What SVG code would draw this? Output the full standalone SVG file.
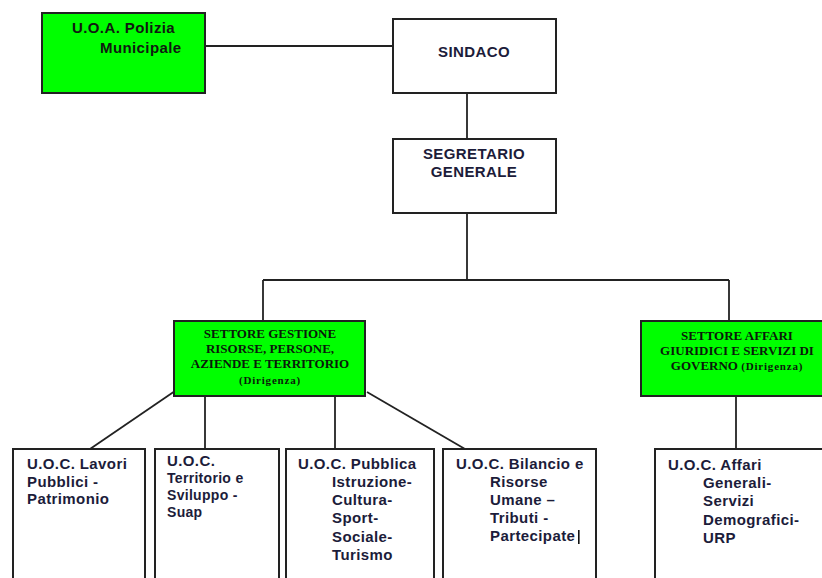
<svg xmlns="http://www.w3.org/2000/svg" width="822" height="578" viewBox="0 0 822 578">
<style>
.box{fill:#fff;stroke:#222;stroke-width:2}
.green{fill:#00ff00;stroke:#222;stroke-width:2}
.conn{stroke:#222;stroke-width:1.8;fill:none}
.s{font-family:"Liberation Sans",Arial,sans-serif;font-weight:bold;font-size:15px;letter-spacing:0.4px;fill:#1c1c3a}
.s13{font-size:14px;letter-spacing:0.3px}
.r{font-family:"Liberation Serif","Times New Roman",serif;font-weight:bold;font-size:13px;fill:#0a1a0a}
.rs{font-size:11px;letter-spacing:0.8px}
.m{text-anchor:middle}
</style>
<g id="connectors">
<line class="conn" x1="205" y1="46" x2="393" y2="46"/>
<line class="conn" x1="467" y1="93" x2="467" y2="139"/>
<line class="conn" x1="467" y1="209" x2="467" y2="280"/>
<line class="conn" x1="263" y1="280" x2="729" y2="280"/>
<line class="conn" x1="263" y1="280" x2="263" y2="321"/>
<line class="conn" x1="729" y1="280" x2="729" y2="321"/>
<line class="conn" x1="175" y1="391" x2="90" y2="449"/>
<line class="conn" x1="205" y1="391" x2="205" y2="449"/>
<line class="conn" x1="335" y1="391" x2="335" y2="449"/>
<line class="conn" x1="367" y1="392" x2="465" y2="449"/>
<line class="conn" x1="736" y1="389" x2="736" y2="449"/>
</g>
<g id="polizia">
<rect class="green" x="42" y="13" width="163" height="80"/>
<text class="s" x="72" y="33" style="fill:#101a10">U.O.A. Polizia</text>
<text class="s" x="100" y="53" style="fill:#101a10">Municipale</text>
</g>
<g id="sindaco">
<rect class="box" x="393" y="19" width="163" height="74"/>
<text class="s m" x="474" y="57">SINDACO</text>
</g>
<g id="segretario">
<rect class="box" x="393" y="139" width="163" height="74"/>
<text class="s m" x="474" y="159">SEGRETARIO</text>
<text class="s m" x="474" y="177">GENERALE</text>
</g>
<g id="settore-gestione">
<rect class="green" x="174" y="321" width="191" height="75"/>
<text class="r m" x="270" y="338">SETTORE GESTIONE</text>
<text class="r m" x="270" y="353">RISORSE, PERSONE,</text>
<text class="r m" x="270" y="368">AZIENDE E TERRITORIO</text>
<text class="r rs m" x="270" y="384">(Dirigenza)</text>
</g>
<g id="settore-affari">
<rect class="green" x="641" y="321" width="190" height="75"/>
<text class="r m" x="737" y="340">SETTORE AFFARI</text>
<text class="r m" x="737" y="355">GIURIDICI E SERVIZI DI</text>
<text class="r m" x="737" y="370">GOVERNO <tspan class="rs">(Dirigenza)</tspan></text>
</g>
<g id="uoc-lavori">
<rect class="box" x="13" y="449" width="132" height="140"/>
<text class="s" x="27" y="469">U.O.C. Lavori</text>
<text class="s" x="27" y="487">Pubblici -</text>
<text class="s" x="27" y="504">Patrimonio</text>
</g>
<g id="uoc-territorio">
<rect class="box" x="155" y="449" width="124" height="140"/>
<text class="s" x="167" y="466">U.O.C.</text>
<text class="s s13" x="167" y="483">Territorio e</text>
<text class="s s13" x="167" y="500">Sviluppo -</text>
<text class="s s13" x="167" y="517">Suap</text>
</g>
<g id="uoc-istruzione">
<rect class="box" x="286" y="449" width="148" height="140"/>
<text class="s" x="298" y="469">U.O.C. Pubblica</text>
<text class="s" x="332" y="487">Istruzione-</text>
<text class="s" x="332" y="505">Cultura-</text>
<text class="s" x="332" y="523">Sport-</text>
<text class="s" x="332" y="542">Sociale-</text>
<text class="s" x="332" y="560">Turismo</text>
</g>
<g id="uoc-bilancio">
<rect class="box" x="443" y="449" width="153" height="140"/>
<text class="s" x="456" y="469">U.O.C. Bilancio e</text>
<text class="s" x="490" y="487">Risorse</text>
<text class="s" x="490" y="505">Umane –</text>
<text class="s" x="490" y="523">Tributi -</text>
<text class="s" x="490" y="541">Partecipate</text>
<rect x="578" y="530" width="1.6" height="14" fill="#111"/>
</g>
<g id="uoc-affari">
<rect class="box" x="655" y="449" width="180" height="140"/>
<text class="s" x="668" y="470">U.O.C. Affari</text>
<text class="s" x="703" y="488">Generali-</text>
<text class="s" x="703" y="506">Servizi</text>
<text class="s" x="703" y="525">Demografici-</text>
<text class="s" x="703" y="543">URP</text>
</g>
</svg>
